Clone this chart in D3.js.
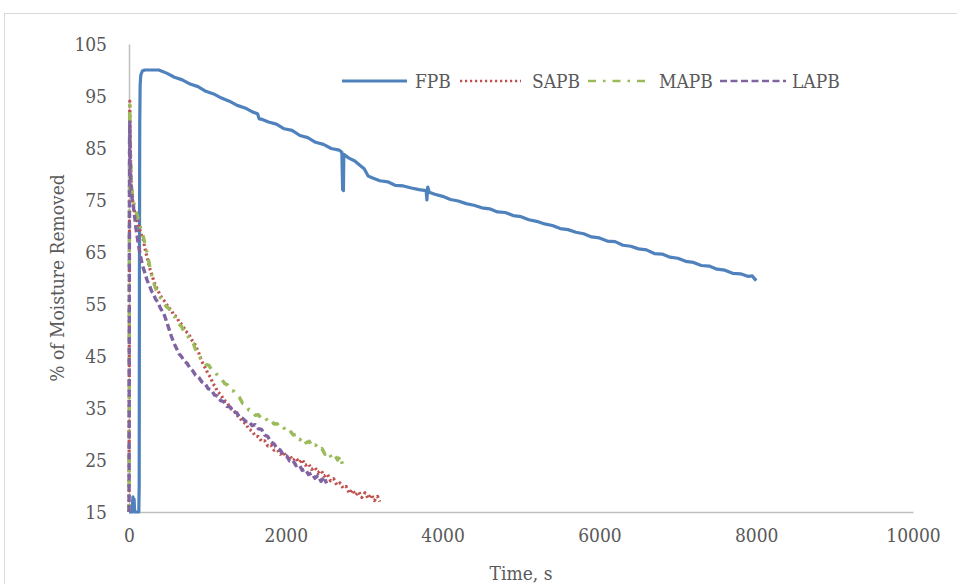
<!DOCTYPE html>
<html>
<head>
<meta charset="utf-8">
<script src="https://cdnjs.cloudflare.com/ajax/libs/d3/7.8.5/d3.min.js"></script>
<style>
  html, body { margin: 0; padding: 0; background: #fff; }
  svg text { font-family: "DejaVu Serif Condensed", "Liberation Serif", serif; fill: #595959; }
</style>
</head>
<body>
<svg id="chart" width="957" height="584"></svg>
<script>
// ---- data ----
const xTicks = [0, 2000, 4000, 6000, 8000, 10000];
const yTicks = [15, 25, 35, 45, 55, 65, 75, 85, 95, 105];
const seriesNames = ["FPB", "SAPB", "MAPB", "LAPB"];
const seriesColors = ["#4f81bd", "#c0504d", "#9bbb59", "#8064a2"];

const fpbData = [[0,15],[40,15],[50,17.9],[58,15.5],[65,17.5],[72,15],[100,15],[125,15],[130,20],[133,60],[137,90],[142,97],[150,99],[170,99.8],[200,100],[300,100],[380,100],
[480,99.4],[580,98.6],[680,98.1],[780,97.3],[880,96.8],[980,95.9],[1080,95.4],[1180,94.6],[1280,94.0],[1380,93.2],[1480,92.7],[1580,91.9],[1640,91.6],[1660,90.6],[1700,90.5],[1780,90.0],[1880,89.6],[1980,88.7],[2080,88.4],[2180,87.4],[2280,87.0],[2380,86.1],[2480,85.7],[2580,84.9],[2680,84.6],[2715,84.2],[2725,77.0],[2735,76.8],[2740,83.8],[2800,83.1],[2880,82.5],[2960,81.5],[3000,81.0],[3050,79.6],[3100,79.3],[3200,78.7],[3300,78.5],[3400,77.8],[3500,77.7],[3600,77.3],[3700,77.0],[3790,76.8],[3800,75.0],[3810,77.5],[3830,76.5],[3900,76.1],[4000,75.7],[4100,75.1],[4200,74.8],[4300,74.3],[4400,74.0],[4500,73.5],[4600,73.3],[4700,72.7],[4800,72.6],[4900,72.0],[5000,71.8],[5100,71.2],[5200,70.9],[5300,70.4],[5400,70.1],[5500,69.5],[5600,69.3],[5700,68.8],[5800,68.5],[5900,67.9],[6000,67.7],[6100,67.1],[6200,67.0],[6300,66.3],[6400,66.1],[6500,65.6],[6600,65.4],[6700,64.7],[6800,64.6],[6900,64.0],[7000,63.8],[7100,63.2],[7200,63.0],[7300,62.4],[7400,62.3],[7500,61.7],[7600,61.5],[7700,60.9],[7800,60.8],[7900,60.3],[7950,60.4],[8000,59.5]];

const sapbData = [[0,15],[2,30],[4,50],[6,70],[8,88],[10,94],[13,90],[16,86],[20,83],[25,80],[30,78],[40,76],[50,74.5],[65,73.3],[80,72],[100,71.2],[120,70.2],[150,68.6],[183,67.3],[210,65.2],[240,63.4],[270,61.6],[300,60.2],[330,58.8],[360,57.9],[400,56.6],[438,55.8],[470,55.3],[500,54.3],[540,53.9],[570,52.8],[608,52.6],[640,51.5],[680,51.0],[720,49.8],[760,49.3],[800,48.1],[830,47.6],[863,46.5],[890,45.6],[920,44.2],[948,43.4],[980,42.5],[1010,41.5],[1040,40.9],[1070,39.7],[1100,39.1],[1130,38.1],[1170,37.6],[1210,36.5],[1250,36.1],[1290,35.0],[1330,34.7],[1374,33.7],[1410,33.2],[1450,32.3],[1490,32.0],[1530,30.9],[1570,30.6],[1610,29.6],[1650,29.5],[1690,28.6],[1730,28.7],[1770,27.7],[1810,27.9],[1850,26.9],[1890,27.0],[1930,26.1],[1970,26.5],[2010,25.5],[2050,25.9],[2090,24.9],[2130,25.4],[2170,24.5],[2210,25.1],[2250,24.0],[2290,24.3],[2330,23.2],[2370,23.6],[2410,22.6],[2450,23.0],[2490,21.9],[2530,22.3],[2570,21.0],[2610,21.4],[2650,20.2],[2690,20.6],[2730,19.6],[2770,19.9],[2810,18.6],[2850,19.3],[2890,18.2],[2930,18.9],[2970,17.8],[3010,18.7],[3050,17.6],[3090,18.4],[3130,17.2],[3170,18.0],[3200,17.0]];

const mapbData = [[0,15],[2,35],[4,60],[6,80],[8,90],[10,93.3],[13,90],[16,86],[20,83],[25,80],[30,78.5],[40,76.5],[50,75.5],[65,74.3],[80,73.3],[100,72.3],[120,71.2],[150,69.5],[183,67.9],[210,66.2],[240,64.2],[270,61.8],[300,59.8],[330,58.4],[360,57.3],[395,56.3],[430,55.8],[470,54.6],[510,54.1],[550,52.9],[590,52.4],[630,51.2],[670,50.7],[710,49.4],[750,48.9],[790,47.7],[821,47.4],[850,46.2],[880,45.6],[906,44.8],[940,44.5],[980,43.4],[1020,43.2],[1060,42.2],[1100,41.9],[1140,41.0],[1180,40.6],[1220,39.7],[1260,39.4],[1300,38.4],[1340,38.2],[1374,37.5],[1410,37.0],[1450,35.9],[1490,35.7],[1530,34.6],[1570,34.5],[1610,33.6],[1650,33.7],[1690,33.0],[1730,33.3],[1770,32.5],[1810,32.8],[1850,31.9],[1890,32.0],[1930,31.1],[1970,31.3],[2010,30.4],[2050,30.7],[2096,29.8],[2140,30.0],[2180,28.9],[2220,29.4],[2260,28.3],[2300,28.6],[2340,27.5],[2380,27.9],[2420,26.9],[2460,27.2],[2500,26.1],[2540,26.6],[2580,25.5],[2620,26.1],[2660,25.0],[2700,25.8],[2720,24.2],[2740,25.2]];

const lapbData = [[0,15],[2,30],[4,55],[6,75],[8,86],[10,90],[13,87],[16,83],[20,80],[25,77.5],[30,76.5],[40,75.3],[50,74.5],[60,73.2],[75,71.5],[90,69.4],[110,67.4],[140,64.7],[170,62.5],[200,61.1],[230,59.6],[260,58.6],[290,57.4],[310,57.0],[340,55.9],[370,55.3],[400,54.2],[440,53.3],[480,51.6],[510,50.2],[540,48.8],[570,47.6],[608,46.4],[640,45.4],[670,44.9],[700,44.1],[740,43.6],[778,42.7],[810,42.2],[850,41.3],[890,40.9],[930,40.0],[970,39.7],[1010,38.7],[1050,38.5],[1090,37.5],[1130,37.3],[1170,36.4],[1210,36.2],[1250,35.3],[1290,35.2],[1330,34.2],[1374,34.1],[1410,33.2],[1450,33.0],[1490,32.4],[1530,32.4],[1570,31.6],[1610,31.8],[1650,31.0],[1690,30.9],[1730,29.8],[1770,29.5],[1810,28.5],[1850,28.1],[1890,27.2],[1930,26.9],[1970,25.9],[2010,25.8],[2050,24.8],[2090,24.9],[2130,23.9],[2170,24.1],[2210,23.0],[2250,23.2],[2290,22.2],[2330,22.5],[2370,21.5],[2410,22.0],[2450,20.9],[2490,21.7],[2520,20.5]];

// ---- drawing ----
const svg = d3.select("#chart");
const x = d3.scaleLinear().domain([0, 10000]).range([129, 913]);
const y = d3.scaleLinear().domain([15, 105]).range([512, 44]);

// outer chart border
svg.append("rect").attr("x", 4.5).attr("y", 13.5).attr("width", 960).attr("height", 600)
  .attr("fill", "none").attr("stroke", "#d9d9d9").attr("stroke-width", 1);

// axes
const xAxis = svg.append("g").attr("transform", "translate(0,512)")
  .call(d3.axisBottom(x).tickValues(xTicks).tickSize(0).tickPadding(17).tickFormat(d3.format("d")));
const yAxis = svg.append("g").attr("transform", "translate(129,0)")
  .call(d3.axisLeft(y).tickValues(yTicks).tickSize(0).tickPadding(22).tickFormat(d3.format("d")));
[xAxis, yAxis].forEach(g => {
  g.select(".domain").attr("stroke", "#bfbfbf").attr("stroke-width", 1.5);
  g.selectAll("text").attr("font-size", 19).attr("fill", "#595959")
    .attr("font-family", "'DejaVu Serif Condensed', 'Liberation Serif', serif");
});

// axis titles
svg.append("text").attr("x", 521).attr("y", 580).attr("text-anchor", "middle")
  .attr("font-size", 19).text("Time, s");
svg.append("text").attr("transform", "translate(64,278) rotate(-90)").attr("text-anchor", "middle")
  .attr("font-size", 19).text("% of Moisture Removed");

// lines
const line = d3.line().x(d => x(d[0])).y(d => y(d[1]));
const allData = [fpbData, sapbData, mapbData, lapbData];
const dashes = [null, "2.2,2.8", "8,7,2.5,7", "7,3.5"];
const widths = [3.2, 3.2, 3.4, 3.4];
allData.forEach((data, i) => {
  svg.append("path").datum(data).attr("d", line)
    .attr("fill", "none").attr("stroke", seriesColors[i])
    .attr("stroke-width", widths[i])
    .attr("stroke-dasharray", dashes[i])
    .attr("stroke-linejoin", "round");
});

// legend
const legendItems = [
  {x1: 342, x2: 407, tx: 415},
  {x1: 460, x2: 521, tx: 532},
  {x1: 588, x2: 652, tx: 659},
  {x1: 720, x2: 786, tx: 792}
];
legendItems.forEach((it, i) => {
  svg.append("line").attr("x1", it.x1).attr("x2", it.x2).attr("y1", 81).attr("y2", 81)
    .attr("stroke", seriesColors[i]).attr("stroke-width", i === 0 ? 3 : 2.6)
    .attr("stroke-dasharray", dashes[i]);
  svg.append("text").attr("x", it.tx).attr("y", 88).attr("font-size", 19).text(seriesNames[i]);
});
</script>
</body>
</html>
